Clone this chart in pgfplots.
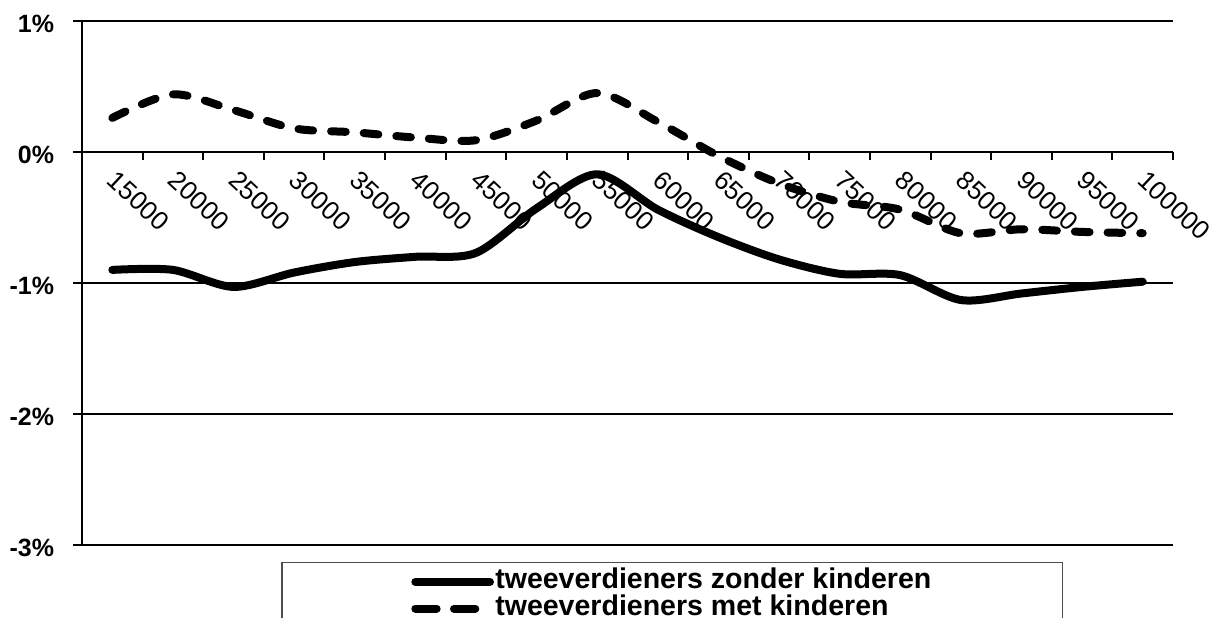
\documentclass[border=0pt]{standalone}
\usepackage{fontspec}
\setmainfont{Liberation Sans}
\usepackage{pgfplots}
\pgfplotsset{compat=1.18}
\begin{document}
\begin{tikzpicture}
\begin{axis}[
  set layers=standard,
  scale only axis, width=818.25pt, height=393pt,
  xmin=0.5, xmax=18.5, ymin=-3, ymax=1,
  axis x line=middle, axis y line=left,
  axis line style={line width=1.5pt, -},
  hide obscured x ticks=false, hide obscured y ticks=false,
  xtick={1,...,18},
  xticklabels={15000,20000,25000,30000,35000,40000,45000,50000,55000,60000,65000,70000,75000,80000,85000,90000,95000,100000},
  minor xtick={0.5,1.5,...,18.5},
  ytick={-3,-2,-1,0,1},
  yticklabels={-3\%,-2\%,-1\%,0\%,1\%},
  ymajorgrids, grid style={line width=1.5pt, black},
  tick align=outside,
  major tick length=6.75pt, minor tick length=6pt,
  tick style={black, line width=1.5pt},
  major x tick style={draw=none},
  xticklabel style={xshift=4.5pt, yshift=-6pt, font=\fontsize{19.5}{21}\selectfont, rotate=-43, anchor=north west, inner sep=0pt},
  yticklabel style={yshift=-2pt, font=\bfseries\fontsize{18.75}{20}\selectfont, anchor=east, inner sep=0pt, xshift=-14pt},
  legend style={at={(0.5408,-0.0324)}, anchor=north, draw=black!70, line width=0.8pt,
    font=\bfseries\fontsize{21.4}{24}\selectfont, inner xsep=97pt, inner ysep=4.5pt,
    nodes={inner xsep=1pt, inner ysep=0pt, text height=15pt, text depth=5pt}, row sep=0pt},
  legend cell align=left,
  legend image code/.code={\draw[#1] (0pt,0pt) -- (56pt,0pt);},
]
\addplot[black, line width=6pt, smooth, line cap=round] coordinates {
(1,-0.90) (2,-0.90) (3,-1.03) (4,-0.92) (5,-0.84) (6,-0.80) (7,-0.77) (8,-0.43) (9,-0.17)
(10,-0.44) (11,-0.65) (12,-0.82) (13,-0.93) (14,-0.94) (15,-1.13) (16,-1.08) (17,-1.03) (18,-0.99)};
\addlegendentry{tweeverdieners zonder kinderen}
\addplot[black, line width=6pt, smooth, line cap=round, dash pattern=on 11pt off 13.5pt,
  legend image post style={dash pattern=on 16pt off 13pt}] coordinates {
(1,0.26) (2,0.44) (3,0.32) (4,0.18) (5,0.15) (6,0.11) (7,0.09) (8,0.24) (9,0.45)
(10,0.23) (11,-0.03) (12,-0.24) (13,-0.38) (14,-0.44) (15,-0.62) (16,-0.59) (17,-0.61) (18,-0.62)};
\addlegendentry{tweeverdieners met kinderen}
\coordinate (sw) at (rel axis cs:0,0);
\end{axis}
\pgfresetboundingbox
\path[use as bounding box] ([shift={(-61.5pt,-54pt)}]sw) rectangle ([shift={(852.75pt,408.75pt)}]sw);
\end{tikzpicture}
\end{document}
